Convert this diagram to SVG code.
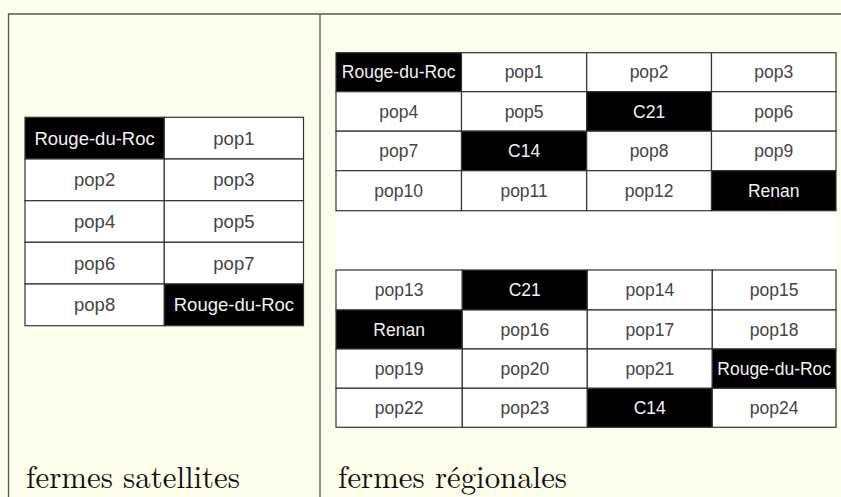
<svg xmlns="http://www.w3.org/2000/svg" width="841" height="497" viewBox="0 0 841 497">
<style>
.bg{fill:#fdfdeb}
.frame{stroke:#555;stroke-width:1.3;fill:none}
.w{fill:#fff;stroke:#333;stroke-width:1.2}
.b{fill:#000;stroke:#333;stroke-width:1.2}
.tw{font-family:"Liberation Sans",Arial,sans-serif;fill:#444;text-anchor:middle}
.tb{font-family:"Liberation Sans",Arial,sans-serif;fill:#f2f2f2;text-anchor:middle}
.L .tw,.L .tb{font-size:18.5px}
.R .tw,.R .tb{font-size:17.5px}
.lab{font-family:"Latin Modern Roman","CMU Serif","Liberation Serif",serif;font-size:31px;fill:#111}
</style>
<rect class="bg" x="0" y="0" width="841" height="497"/>
<g id="frame">
<path class="frame" d="M8.5,497 V14 H841 M320,14 V497"/>
</g>
<g id="satellites" class="L">
<g id="s-r0c0"><rect class="b" x="25" y="117.3" width="139.3" height="41.7"/><text class="tb" x="94.6" y="144.5">Rouge-du-Roc</text></g>
<g id="s-r0c1"><rect class="w" x="164.3" y="117.3" width="139.2" height="41.7"/><text class="tw" x="233.9" y="144.5">pop1</text></g>
<g id="s-r1c0"><rect class="w" x="25" y="159" width="139.3" height="41.7"/><text class="tw" x="94.6" y="186.2">pop2</text></g>
<g id="s-r1c1"><rect class="w" x="164.3" y="159" width="139.2" height="41.7"/><text class="tw" x="233.9" y="186.2">pop3</text></g>
<g id="s-r2c0"><rect class="w" x="25" y="200.7" width="139.3" height="41.6"/><text class="tw" x="94.6" y="227.9">pop4</text></g>
<g id="s-r2c1"><rect class="w" x="164.3" y="200.7" width="139.2" height="41.6"/><text class="tw" x="233.9" y="227.9">pop5</text></g>
<g id="s-r3c0"><rect class="w" x="25" y="242.3" width="139.3" height="41.7"/><text class="tw" x="94.6" y="269.5">pop6</text></g>
<g id="s-r3c1"><rect class="w" x="164.3" y="242.3" width="139.2" height="41.7"/><text class="tw" x="233.9" y="269.5">pop7</text></g>
<g id="s-r4c0"><rect class="w" x="25" y="284" width="139.3" height="41.7"/><text class="tw" x="94.6" y="311.2">pop8</text></g>
<g id="s-r4c1"><rect class="b" x="164.3" y="284" width="139.2" height="41.7"/><text class="tb" x="233.9" y="311.2">Rouge-du-Roc</text></g>
</g>
<g id="regionales" class="R">
<rect x="336" y="210.7" width="500" height="59.3" fill="#fff"/>
<g id="r1-r0c0"><rect class="b" x="336" y="52.7" width="125.5" height="39"/><text class="tb" x="398.7" y="78.3">Rouge-du-Roc</text></g>
<g id="r1-r0c1"><rect class="w" x="461.5" y="52.7" width="125.2" height="39"/><text class="tw" x="524.1" y="78.3">pop1</text></g>
<g id="r1-r0c2"><rect class="w" x="586.7" y="52.7" width="124.8" height="39"/><text class="tw" x="649.1" y="78.3">pop2</text></g>
<g id="r1-r0c3"><rect class="w" x="711.5" y="52.7" width="124.5" height="39"/><text class="tw" x="773.7" y="78.3">pop3</text></g>
<g id="r1-r1c0"><rect class="w" x="336" y="91.7" width="125.5" height="39.5"/><text class="tw" x="398.7" y="117.5">pop4</text></g>
<g id="r1-r1c1"><rect class="w" x="461.5" y="91.7" width="125.2" height="39.5"/><text class="tw" x="524.1" y="117.5">pop5</text></g>
<g id="r1-r1c2"><rect class="b" x="586.7" y="91.7" width="124.8" height="39.5"/><text class="tb" x="649.1" y="117.5">C21</text></g>
<g id="r1-r1c3"><rect class="w" x="711.5" y="91.7" width="124.5" height="39.5"/><text class="tw" x="773.7" y="117.5">pop6</text></g>
<g id="r1-r2c0"><rect class="w" x="336" y="131.2" width="125.5" height="39.5"/><text class="tw" x="398.7" y="157">pop7</text></g>
<g id="r1-r2c1"><rect class="b" x="461.5" y="131.2" width="125.2" height="39.5"/><text class="tb" x="524.1" y="157">C14</text></g>
<g id="r1-r2c2"><rect class="w" x="586.7" y="131.2" width="124.8" height="39.5"/><text class="tw" x="649.1" y="157">pop8</text></g>
<g id="r1-r2c3"><rect class="w" x="711.5" y="131.2" width="124.5" height="39.5"/><text class="tw" x="773.7" y="157">pop9</text></g>
<g id="r1-r3c0"><rect class="w" x="336" y="170.7" width="125.5" height="40"/><text class="tw" x="398.7" y="196.7">pop10</text></g>
<g id="r1-r3c1"><rect class="w" x="461.5" y="170.7" width="125.2" height="40"/><text class="tw" x="524.1" y="196.7">pop11</text></g>
<g id="r1-r3c2"><rect class="w" x="586.7" y="170.7" width="124.8" height="40"/><text class="tw" x="649.1" y="196.7">pop12</text></g>
<g id="r1-r3c3"><rect class="b" x="711.5" y="170.7" width="124.5" height="40"/><text class="tb" x="773.7" y="196.7">Renan</text></g>
<g id="r2-r0c0"><rect class="w" x="336" y="270" width="126.3" height="40"/><text class="tw" x="399.1" y="296">pop13</text></g>
<g id="r2-r0c1"><rect class="b" x="462.3" y="270" width="125" height="40"/><text class="tb" x="524.8" y="296">C21</text></g>
<g id="r2-r0c2"><rect class="w" x="587.3" y="270" width="125" height="40"/><text class="tw" x="649.8" y="296">pop14</text></g>
<g id="r2-r0c3"><rect class="w" x="712.3" y="270" width="123.7" height="40"/><text class="tw" x="774.2" y="296">pop15</text></g>
<g id="r2-r1c0"><rect class="b" x="336" y="310" width="126.3" height="39"/><text class="tb" x="399.1" y="335.5">Renan</text></g>
<g id="r2-r1c1"><rect class="w" x="462.3" y="310" width="125" height="39"/><text class="tw" x="524.8" y="335.5">pop16</text></g>
<g id="r2-r1c2"><rect class="w" x="587.3" y="310" width="125" height="39"/><text class="tw" x="649.8" y="335.5">pop17</text></g>
<g id="r2-r1c3"><rect class="w" x="712.3" y="310" width="123.7" height="39"/><text class="tw" x="774.2" y="335.5">pop18</text></g>
<g id="r2-r2c0"><rect class="w" x="336" y="349" width="126.3" height="39.3"/><text class="tw" x="399.1" y="374.7">pop19</text></g>
<g id="r2-r2c1"><rect class="w" x="462.3" y="349" width="125" height="39.3"/><text class="tw" x="524.8" y="374.7">pop20</text></g>
<g id="r2-r2c2"><rect class="w" x="587.3" y="349" width="125" height="39.3"/><text class="tw" x="649.8" y="374.7">pop21</text></g>
<g id="r2-r2c3"><rect class="b" x="712.3" y="349" width="123.7" height="39.3"/><text class="tb" x="774.2" y="374.7">Rouge-du-Roc</text></g>
<g id="r2-r3c0"><rect class="w" x="336" y="388.3" width="126.3" height="39"/><text class="tw" x="399.1" y="413.8">pop22</text></g>
<g id="r2-r3c1"><rect class="w" x="462.3" y="388.3" width="125" height="39"/><text class="tw" x="524.8" y="413.8">pop23</text></g>
<g id="r2-r3c2"><rect class="b" x="587.3" y="388.3" width="125" height="39"/><text class="tb" x="649.8" y="413.8">C14</text></g>
<g id="r2-r3c3"><rect class="w" x="712.3" y="388.3" width="123.7" height="39"/><text class="tw" x="774.2" y="413.8">pop24</text></g>
</g>
<g id="labels">
<text class="lab" x="26" y="488" textLength="214" lengthAdjust="spacingAndGlyphs">fermes satellites</text>
<text class="lab" x="338" y="488" textLength="229" lengthAdjust="spacingAndGlyphs">fermes régionales</text>
</g>
</svg>
